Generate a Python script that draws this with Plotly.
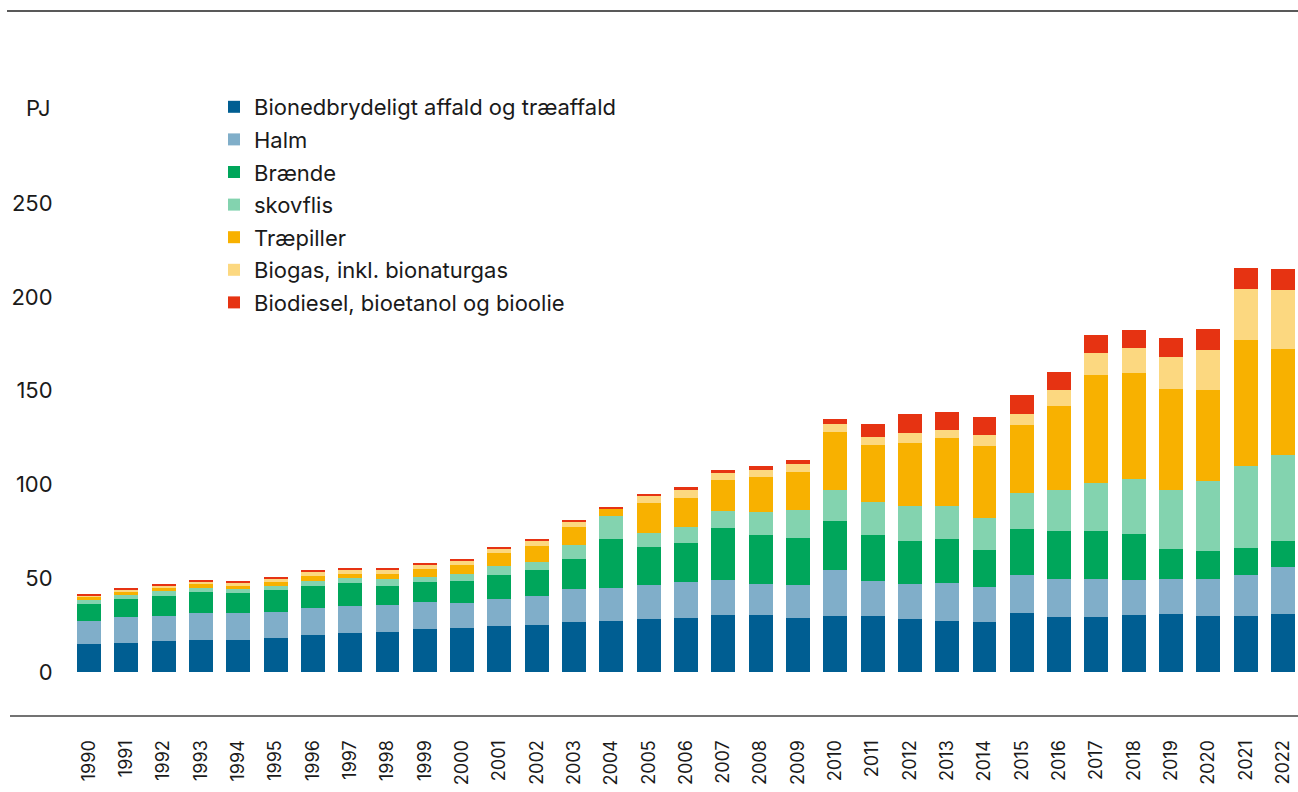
import plotly.graph_objects as go

years = list(range(1990, 2023))

affald = [14.9, 15.5, 16.5, 17.1, 17.1, 18.1, 19.7, 20.8, 21.3, 22.9, 23.5, 24.5, 25.1, 26.7, 27.2, 28.3, 28.8,
          30.4, 30.4, 28.8, 29.9, 29.9, 28.3, 27.2, 26.7, 31.4, 29.3, 29.3, 30.4, 30.9, 29.9, 29.9, 30.9]
halm = [12.3, 13.8, 13.3, 14.4, 14.4, 13.9, 14.4, 14.4, 14.4, 14.4, 13.3, 14.4, 15.4, 17.5, 17.6, 18.1, 19.2,
        18.6, 16.5, 17.6, 24.5, 18.6, 18.6, 20.2, 18.6, 20.3, 20.3, 20.3, 18.6, 18.7, 19.7, 21.8, 25.1]
braende = [9.0, 9.6, 10.7, 11.1, 10.6, 11.7, 11.7, 12.2, 10.1, 10.7, 11.7, 12.8, 13.9, 16.0, 26.1, 20.2, 20.8,
           27.8, 26.1, 25.0, 26.1, 24.5, 22.9, 23.5, 19.7, 24.5, 25.6, 25.6, 24.6, 16.0, 14.9, 14.4, 13.8]
skovflis = [2.4, 2.1, 2.7, 2.3, 2.1, 2.1, 2.7, 2.7, 3.8, 2.6, 3.7, 5.0, 4.4, 7.5, 12.4, 7.5, 8.5,
            9.0, 12.4, 15.1, 16.5, 17.8, 18.7, 17.6, 17.1, 19.2, 22.0, 25.5, 29.3, 31.6, 37.3, 43.9, 45.9]
traepiller = [1.6, 1.6, 1.6, 2.0, 1.6, 2.2, 2.7, 2.1, 2.6, 4.3, 4.8, 6.7, 8.4, 9.6, 3.6, 16.0, 15.5,
              16.5, 18.5, 20.1, 30.9, 30.2, 33.6, 36.2, 38.4, 36.3, 44.6, 57.6, 56.5, 53.7, 48.5, 67.0, 56.5]
biogas = [0.4, 1.1, 1.1, 1.1, 1.6, 1.6, 2.1, 2.2, 2.2, 2.1, 2.7, 2.2, 2.6, 2.7, 0.5, 3.7, 4.2,
          3.8, 3.8, 4.3, 4.3, 4.3, 5.3, 4.3, 5.8, 5.8, 8.5, 11.7, 13.3, 17.0, 21.3, 27.2, 31.4]
biodiesel = [1.1, 1.1, 1.1, 1.0, 1.1, 1.0, 1.1, 1.0, 1.0, 1.1, 0.5, 1.0, 1.1, 1.0, 0.6, 1.1, 1.6,
             1.6, 2.1, 2.1, 2.7, 6.9, 10.1, 9.6, 9.6, 10.0, 9.6, 9.6, 9.6, 10.1, 11.2, 11.2, 11.2]

series_names = ["Bionedbrydeligt affald og træaffald", "Halm", "Brænde", "skovflis",
                "Træpiller", "Biogas, inkl. bionaturgas", "Biodiesel, bioetanol og bioolie"]
series_values = [affald, halm, braende, skovflis, traepiller, biogas, biodiesel]
colors = ["#005E92", "#80AEC9", "#00A65B", "#83D3AF", "#F8B100", "#FCD880", "#E63312"]

y_ticks = [0, 50, 100, 150, 200, 250]

FONT = "Inter, Arial, sans-serif"
TXT = "#1a1a1a"

fig = go.Figure()
for name, vals, col in zip(series_names, series_values, colors):
    fig.add_trace(go.Bar(x=years, y=vals, name=name, marker=dict(color=col, line=dict(width=0)),
                         legendgroup=name))

W, H = 1298, 792
L, R, T, B = 70, 0, 128, 120
pw, ph = W - L - R, H - T - B

def px_x(x):
    return (x - L) / pw

def px_y(y):
    return (H - B - y) / ph

fig.update_layout(
    width=W, height=H,
    margin=dict(l=L, r=R, t=T, b=B),
    barmode="stack", bargap=0.357,
    plot_bgcolor="white", paper_bgcolor="white",
    font=dict(family=FONT, size=22, color=TXT),
    showlegend=True,
    legend=dict(x=px_x(214), y=px_y(86), xanchor="left", yanchor="top",
                traceorder="grouped", tracegroupgap=1,
                font=dict(family=FONT, size=22, color=TXT), bgcolor="rgba(0,0,0,0)"),
    xaxis=dict(range=[1989.491, 2022.402], tickmode="array", tickvals=years,
               ticktext=[str(y) for y in years], tickangle=-90,
               ticks="outside", ticklen=60, tickcolor="rgba(0,0,0,0)",
               showgrid=False, zeroline=False, showline=False,
               tickfont=dict(family=FONT, size=18, color=TXT)),
    yaxis=dict(range=[0, 290], tickmode="array", tickvals=y_ticks,
               ticks="outside", ticklen=12, tickcolor="rgba(0,0,0,0)",
               showgrid=False, zeroline=False, showline=False,
               tickfont=dict(family=FONT, size=22, color=TXT)),
    shapes=[
        dict(type="line", xref="paper", yref="paper", x0=px_x(7), x1=1, y0=px_y(11), y1=px_y(11),
             line=dict(color="#222", width=1.5)),
        dict(type="line", xref="paper", yref="paper", x0=px_x(10), x1=1, y0=px_y(716), y1=px_y(716),
             line=dict(color="#444", width=1.5)),
    ],
    annotations=[
        dict(text="PJ", xref="paper", yref="paper", x=px_x(53), y=px_y(108), xanchor="right",
             yanchor="middle", showarrow=False, font=dict(family=FONT, size=22, color=TXT)),
    ],
)

fig.write_html("out.html", config={"displayModeBar": False},
               post_script="document.body.style.margin='0px';document.body.style.overflow='hidden';")
